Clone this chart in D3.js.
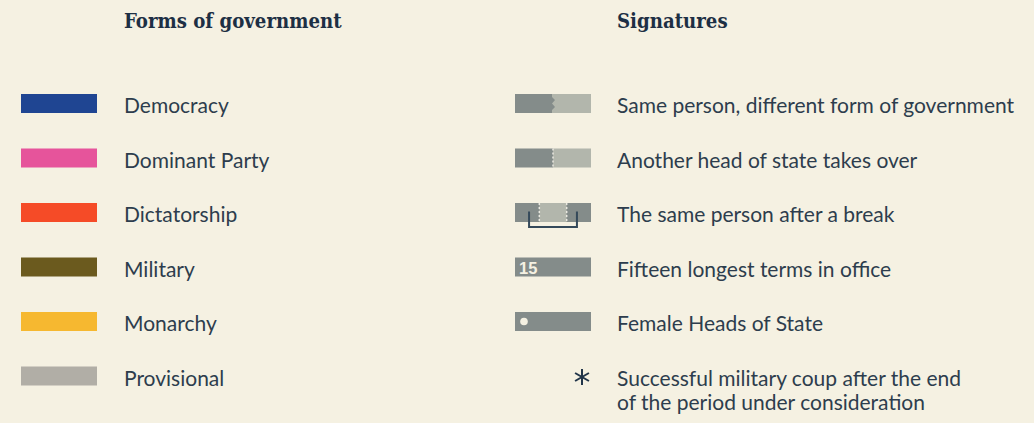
<!DOCTYPE html>
<html>
<head>
<meta charset="utf-8">
<script src="https://cdn.jsdelivr.net/npm/d3@7"></script>
<style>
  html, body { margin: 0; padding: 0; background: #f5f1e2; }
  svg { display: block; }
</style>
</head>
<body>
<svg id="chart" width="1034" height="423"></svg>
<script>
// ---- data ----
const formsTitle = "Forms of government";
const signaturesTitle = "Signatures";
const forms = ["Democracy", "Dominant Party", "Dictatorship", "Military", "Monarchy", "Provisional"];
const formColors = ["#1f4592", "#e6549b", "#f54b27", "#6b5a1e", "#f6b830", "#b1aea6"];
const signatures = [
  "Same person, different form of government",
  "Another head of state takes over",
  "The same person after a break",
  "Fifteen longest terms in office",
  "Female Heads of State",
  "Successful military coup after the end|of the period under consideration"
];
const signatureKinds = ["zigzag", "dotted", "break", "number", "female", "coup"];
const longestLabel = "15";

// ---- layout ----
const W = 1034, H = 423;
const svg = d3.select("#chart");
svg.append("rect").attr("width", W).attr("height", H).attr("fill", "#f5f1e2");

const textColor = "#2d3d4d";
const titleColor = "#1d2f44";
const dark = "#848c8a";
const light = "#b2b6ac";
const bodyFont = "Lato, 'Noto Sans', sans-serif";
const bodySize = 21;
const titleFont = "'DejaVu Serif Condensed', 'DejaVu Serif', serif";
const titleSize = 20.2;

const y = d3.scalePoint().domain(d3.range(6)).range([103.5, 376]);
const barH = 19;

// titles
svg.append("text").attr("x", 124).attr("y", 28).text(formsTitle)
  .attr("font-family", titleFont).attr("font-weight", "bold").attr("font-size", titleSize)
  .attr("fill", titleColor);
svg.append("text").attr("x", 617).attr("y", 28).text(signaturesTitle)
  .attr("font-family", titleFont).attr("font-weight", "bold").attr("font-size", titleSize)
  .attr("fill", titleColor);

// forms legend
const fx = d3.scaleLinear().domain([0, 1]).range([21, 97]);
const fg = svg.append("g");
fg.selectAll("rect").data(forms).join("rect")
  .attr("x", fx(0)).attr("width", fx(1) - fx(0))
  .attr("y", (d, i) => y(i) - barH / 2).attr("height", barH)
  .attr("fill", (d, i) => formColors[i]);
fg.selectAll("text").data(forms).join("text")
  .attr("x", 124).attr("y", (d, i) => y(i) + 9.5)
  .attr("font-family", bodyFont).attr("font-size", bodySize).attr("fill", textColor)
  .text(d => d);

// signatures legend
const sx = d3.scaleLinear().domain([0, 1]).range([515, 591]);
const sg = svg.append("g");
signatureKinds.forEach((kind, i) => {
  const cy = y(i), top = cy - barH / 2, bot = cy + barH / 2;
  const g = sg.append("g");
  if (kind === "zigzag") {
    const mx = sx(0.5);
    g.append("rect").attr("x", sx(0)).attr("y", top).attr("width", sx(1) - sx(0)).attr("height", barH).attr("fill", light);
    const pts = [[sx(0), top], [mx - 1, top], [mx - 1, top + 3], [mx + 2, top + 6], [mx - 1, top + 9.5],
                 [mx + 2, top + 13], [mx - 1, top + 16], [mx - 1, bot], [sx(0), bot]];
    g.append("path").attr("d", d3.line()(pts)).attr("fill", dark);
  } else if (kind === "dotted") {
    const mx = sx(0.5);
    g.append("rect").attr("x", sx(0)).attr("y", top).attr("width", mx - sx(0)).attr("height", barH).attr("fill", dark);
    g.append("rect").attr("x", mx).attr("y", top).attr("width", sx(1) - mx).attr("height", barH).attr("fill", light);
    g.append("line").attr("x1", mx).attr("x2", mx).attr("y1", top).attr("y2", bot)
      .attr("stroke", "#e9e8e0").attr("stroke-width", 1.5).attr("stroke-dasharray", "2,2");
  } else if (kind === "break") {
    const a = sx(0.32), b = sx(0.68);
    g.append("rect").attr("x", sx(0)).attr("y", top).attr("width", sx(1) - sx(0)).attr("height", barH).attr("fill", dark);
    g.append("rect").attr("x", a).attr("y", top).attr("width", b - a).attr("height", barH).attr("fill", light);
    [a, b].forEach(xx => g.append("line").attr("x1", xx).attr("x2", xx).attr("y1", top).attr("y2", bot)
      .attr("stroke", "#e9e8e0").attr("stroke-width", 1.5).attr("stroke-dasharray", "2,2"));
    const l = sx(0.185), r = sx(0.815);
    g.append("path").attr("d", d3.line()([[l, cy - 1], [l, bot + 5], [r, bot + 5], [r, cy - 1]]))
      .attr("fill", "none").attr("stroke", "#34495a").attr("stroke-width", 2);
  } else if (kind === "number") {
    g.append("rect").attr("x", sx(0)).attr("y", top).attr("width", sx(1) - sx(0)).attr("height", barH).attr("fill", dark);
    g.append("text").attr("x", sx(0) + 4).attr("y", cy + 6.5).text(longestLabel)
      .attr("font-family", "'Liberation Sans', Arial, sans-serif").attr("font-weight", "bold")
      .attr("font-size", 16.5).attr("fill", "#f5f1e2");
  } else if (kind === "female") {
    g.append("rect").attr("x", sx(0)).attr("y", top).attr("width", sx(1) - sx(0)).attr("height", barH).attr("fill", dark);
    g.append("circle").attr("cx", sx(0) + 9).attr("cy", cy).attr("r", 3.8).attr("fill", "#f5f1e2");
  } else if (kind === "coup") {
    const cx = 582, r = 8;
    const arms = [90, 30, -30].map(a => a * Math.PI / 180);
    arms.forEach(a => g.append("line")
      .attr("x1", cx - r * Math.cos(a)).attr("y1", cy + 1 - r * Math.sin(a))
      .attr("x2", cx + r * Math.cos(a)).attr("y2", cy + 1 + r * Math.sin(a))
      .attr("stroke", "#22364a").attr("stroke-width", 2));
  }
  const lines = signatures[i].split("|");
  const t = g.append("text").attr("x", 617).attr("y", cy + 9.5)
    .attr("font-family", bodyFont).attr("font-size", bodySize).attr("fill", textColor);
  lines.forEach((ln, k) => t.append("tspan").attr("x", 617).attr("dy", k === 0 ? 0 : 24).text(ln));
});
</script>
</body>
</html>
